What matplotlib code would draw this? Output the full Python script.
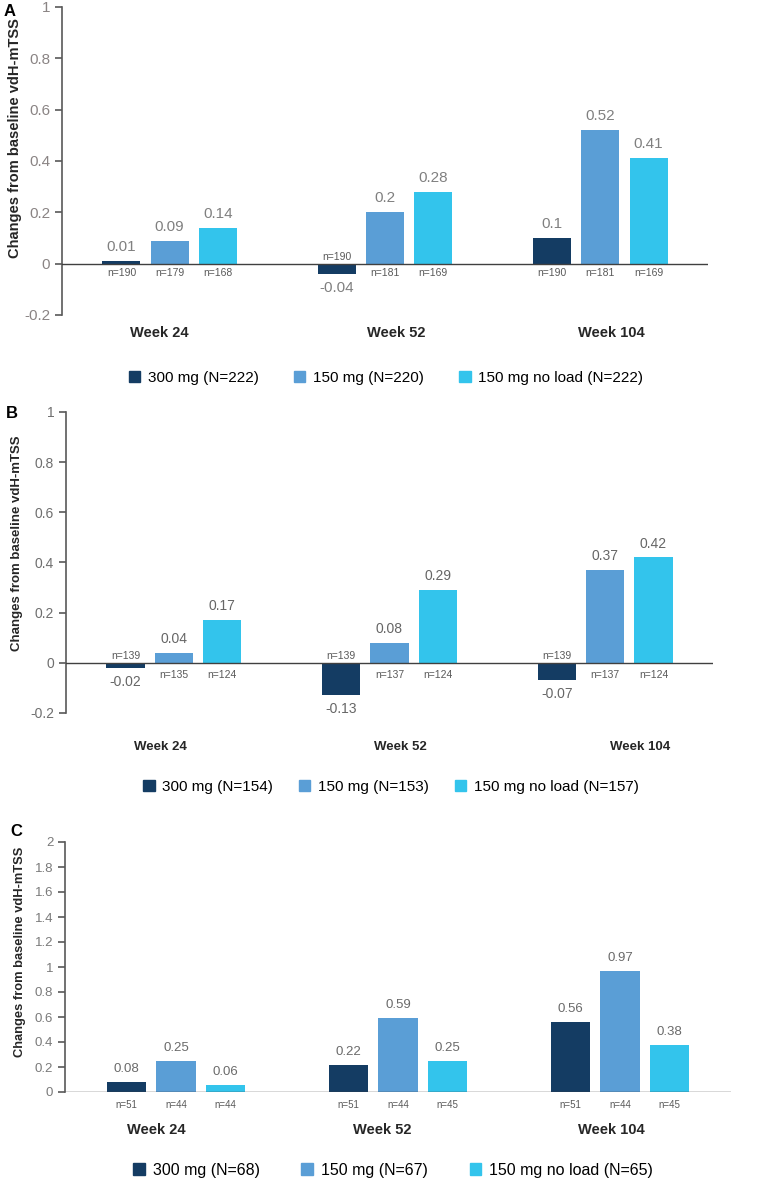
import numpy as np
import matplotlib
matplotlib.use("Agg")
import matplotlib.pyplot as plt
from matplotlib.patches import Patch

plt.rcParams["font.family"] = ["Liberation Sans", "DejaVu Sans"]

weeks = ["Week 24", "Week 52", "Week 104"]
doses = ["300 mg", "150 mg", "150 mg no load"]
colors = ["#143c63", "#5a9ed6", "#33c4ec"]

# panel A
a_300 = [0.01, -0.04, 0.10]
a_150 = [0.09, 0.20, 0.52]
a_nl = [0.14, 0.28, 0.41]
a_n300 = [190, 190, 190]
a_n150 = [179, 181, 181]
a_nnl = [168, 169, 169]
a_N = [222, 220, 222]

# panel B
b_300 = [-0.02, -0.13, -0.07]
b_150 = [0.04, 0.08, 0.37]
b_nl = [0.17, 0.29, 0.42]
b_n300 = [139, 139, 139]
b_n150 = [135, 137, 137]
b_nnl = [124, 124, 124]
b_N = [154, 153, 157]

# panel C
c_300 = [0.08, 0.22, 0.56]
c_150 = [0.25, 0.59, 0.97]
c_nl = [0.06, 0.25, 0.38]
c_n300 = [51, 51, 51]
c_n150 = [44, 44, 44]
c_nnl = [44, 45, 45]
c_N = [68, 67, 65]

W, H = 774, 1181
fig = plt.figure(figsize=(W / 100, H / 100), dpi=100)


def px_axes(left, right, top, bottom):
    return fig.add_axes([left / W, 1 - bottom / H, (right - left) / W, (bottom - top) / H])


def panel(ax, series, counts, N, ylim, yticks, st, letter, letter_xy,
          lab_coords, week_shift, week_pad, leg_xy, leg_sp):
    x = np.arange(len(weeks))
    width, step = 0.177, 0.224
    handles = []
    for i, (vals, ns) in enumerate(zip(series, counts)):
        xs = x + (i - 1) * step
        ax.bar(xs, vals, width, color=colors[i], zorder=2)
        handles.append(Patch(color=colors[i], label=f"{doses[i]} (N={N[i]})"))
        for xx, v, n in zip(xs, vals, ns):
            if v >= 0:
                ax.annotate(f"{v:g}", (xx, v), xytext=(0, 5), textcoords="offset points",
                            ha="center", va="bottom", fontsize=st["val"], color=st["vc"])
                ax.annotate(f"n={n}", (xx, 0), xytext=(0, -st["nd"]), textcoords="offset points",
                            ha="center", va="top", fontsize=st["n"], color="#595959")
            else:
                ax.annotate(f"{v:g}", (xx, v), xytext=(0, -5), textcoords="offset points",
                            ha="center", va="top", fontsize=st["val"], color=st["vc"])
                ax.annotate(f"n={n}", (xx, 0), xytext=(0, 1), textcoords="offset points",
                            ha="center", va="bottom", fontsize=st["n"], color="#595959")
    ax.axhline(0, color="#404040", lw=1, zorder=3)
    ax.set_xlim(-0.5, 2.5)
    ax.set_ylim(*ylim)
    ax.set_yticks(yticks)
    ax.set_yticklabels([f"{t:g}" for t in yticks])
    ax.tick_params(axis="y", labelsize=st["tick"], labelcolor=st["tc"], color="#595959",
                   length=5, width=1.2)
    ax.set_xticks(x + np.array(week_shift))
    ax.set_xticklabels(weeks, fontweight="bold", fontsize=st["week"], color="#262626")
    ax.tick_params(axis="x", length=0, pad=week_pad)
    for s in ["top", "right", "bottom"]:
        ax.spines[s].set_visible(False)
    ax.spines["left"].set_color("#595959")
    ax.spines["left"].set_linewidth(1.2)
    ax.set_ylabel("Changes from baseline vdH-mTSS", fontweight="bold",
                  fontsize=st["ylab"], color="#262626")
    ax.yaxis.set_label_coords(*lab_coords)
    fig.text(letter_xy[0] / W, 1 - letter_xy[1] / H, letter, fontweight="bold",
             fontsize=12, ha="left", va="center")
    fig.legend(handles=handles, loc="center", bbox_to_anchor=(leg_xy[0] / W, 1 - leg_xy[1] / H),
               ncol=3, frameon=False, fontsize=st["leg"], handlelength=0.75, handleheight=0.75,
               handletextpad=0.5, columnspacing=leg_sp, borderaxespad=0)


axA = px_axes(62, 708, 7, 315)
panel(axA, [a_300, a_150, a_nl], [a_n300, a_n150, a_nnl], a_N, (-0.2, 1.0),
      [-0.2, 0, 0.2, 0.4, 0.6, 0.8, 1.0],
      dict(val=11, vc="#808080", n=7.5, nd=3, tick=11, tc="#8a8484", week=10.5, ylab=10.5, leg=11),
      "A", (4, 11), (-0.062, 0.575), [-0.05, 0.05, 0.05], 8, (386, 378), 2.3)

axB = px_axes(66, 713, 412, 713)
panel(axB, [b_300, b_150, b_nl], [b_n300, b_n150, b_nnl], b_N, (-0.2, 1.0),
      [-0.2, 0, 0.2, 0.4, 0.6, 0.8, 1.0],
      dict(val=10, vc="#666666", n=7.5, nd=5, tick=10, tc="#6f6f6f", week=9.5, ylab=9.5, leg=11),
      "B", (6, 414), (-0.066, 0.565), [-0.06, 0.05, 0.16], 20, (391, 787), 1.7)

axC = px_axes(65, 731, 842, 1092)
panel(axC, [c_300, c_150, c_nl], [c_n300, c_n150, c_nnl], c_N, (0, 2.0),
      [0, 0.2, 0.4, 0.6, 0.8, 1.0, 1.2, 1.4, 1.6, 1.8, 2.0],
      dict(val=9.5, vc="#6a6a6a", n=7, nd=6, tick=9.5, tc="#7a7a7a", week=10.5, ylab=9.3, leg=11.5),
      "C", (10, 832), (-0.059, 0.56), [-0.09, -0.07, -0.04], 22, (393, 1170), 2.6)

fig.savefig("out.png", dpi=100)
